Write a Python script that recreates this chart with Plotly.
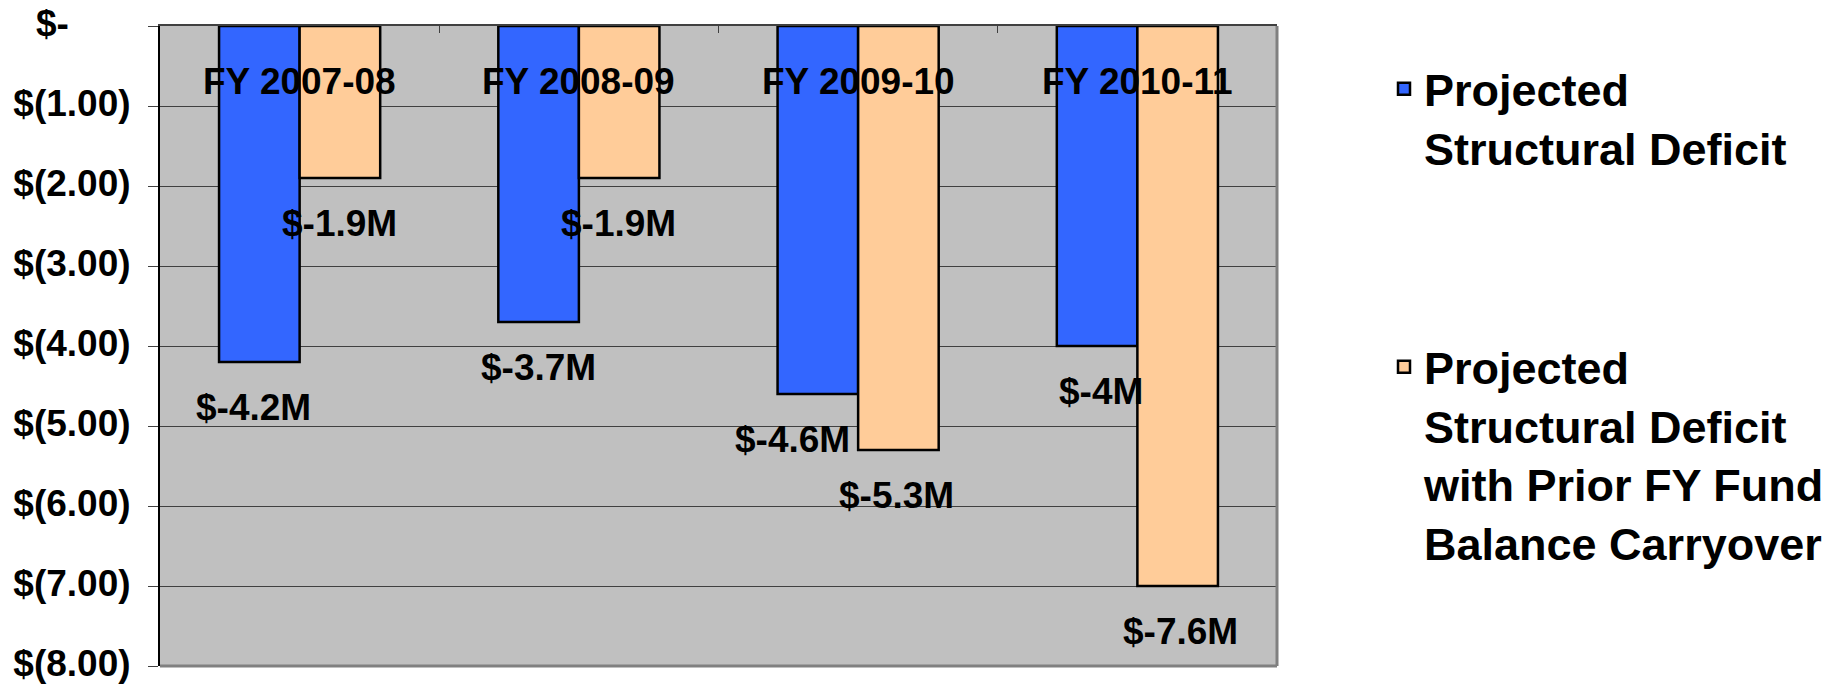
import plotly.graph_objects as go

categories = ["FY 2007-08", "FY 2008-09", "FY 2009-10", "FY 2010-11"]
deficit = [-4.2, -3.7, -4.6, -4.0]
deficit_carry = [-1.9, -1.9, -5.3, -7.0]
deficit_labels = ["$-4.2M", "$-3.7M", "$-4.6M", "$-4M"]
carry_labels = ["$-1.9M", "$-1.9M", "$-5.3M", "$-7.6M"]
y_tickvals = [0, -1, -2, -3, -4, -5, -6, -7, -8]
y_ticktext = ["$-\u00a0\u00a0\u00a0\u00a0\u00a0\u00a0", "$(1.00)", "$(2.00)", "$(3.00)", "$(4.00)",
              "$(5.00)", "$(6.00)", "$(7.00)", "$(8.00)"]
name1 = "Projected<br>Structural Deficit"
name2 = "Projected<br>Structural Deficit<br>with Prior FY Fund<br>Balance Carryover"

# styling
W, H = 1843, 685
FONT = "Liberation Sans"
BLUE = "#3366FF"
PEACH = "#FFCC99"
bar_off = 40
nudge1 = [-6, 0, -26, 4]
nudge2 = [0, 0, -2, 3]
bold37 = dict(size=37, family=FONT, color="black", weight="bold")
legfont = dict(size=45, family=FONT, weight="bold", color="black")

fig = go.Figure()
fig.add_trace(go.Bar(x=categories, y=deficit, name=name1, showlegend=True,
                     marker=dict(color=BLUE, line=dict(color="black", width=2.5)), legend="legend"))
fig.add_trace(go.Bar(x=categories, y=deficit_carry, name=name2, showlegend=True,
                     marker=dict(color=PEACH, line=dict(color="black", width=2.5)), legend="legend2"))

ann = []
for i, c in enumerate(categories):
    ann.append(dict(x=c, y=0, text=c, showarrow=False, yshift=-55, font=bold37))
    ann.append(dict(x=c, y=deficit[i], text=deficit_labels[i], showarrow=False,
                    xshift=-bar_off + nudge1[i], yshift=-45, font=bold37))
    ann.append(dict(x=c, y=deficit_carry[i], text=carry_labels[i], showarrow=False,
                    xshift=bar_off + nudge2[i], yshift=-45, font=bold37))

fig.update_layout(
    width=W, height=H,
    margin=dict(l=160, r=W - 1277, t=26, b=H - 666, autoexpand=False),
    paper_bgcolor="white", plot_bgcolor="#C0C0C0",
    barmode="group", bargap=0.423, bargroupgap=0,
    font=dict(family=FONT, color="black"),
    annotations=ann,
    showlegend=True,
    legend=dict(xref="container", yref="container", x=1384 / W, y=1 - 53 / H,
                xanchor="left", yanchor="top", font=legfont, valign="top", bgcolor="rgba(0,0,0,0)"),
    legend2=dict(xref="container", yref="container", x=1384 / W, y=1 - 331 / H,
                 xanchor="left", yanchor="top", font=legfont, valign="top", bgcolor="rgba(0,0,0,0)"),
    shapes=[
        dict(type="line", xref="paper", yref="paper", x0=1, x1=1, y0=0, y1=1, line=dict(color="#808080", width=3)),
        dict(type="line", xref="paper", yref="paper", x0=0, x1=1, y0=0, y1=0, line=dict(color="#808080", width=3)),
    ],
)
fig.update_xaxes(type="category", side="top", showline=True, linecolor="#404040", linewidth=2,
                 tickson="boundaries", ticks="inside", ticklen=7, tickcolor="#404040",
                 showticklabels=False, showgrid=False, automargin=False)
fig.update_yaxes(range=[-8, 0], tickvals=y_tickvals, ticktext=y_ticktext, showgrid=True, gridcolor="#404040",
                 gridwidth=1, zeroline=False, showline=True, linecolor="black", linewidth=2,
                 ticks="outside", ticklen=10, tickcolor="#404040", ticklabelstandoff=10, automargin=False,
                 ticklabelshift=-3, ticklabeloverflow="allow", tickfont=bold37)

fig.write_html("out.html", config={"displayModeBar": False},
               post_script="document.body.style.margin='0';document.body.style.overflow='hidden';")
